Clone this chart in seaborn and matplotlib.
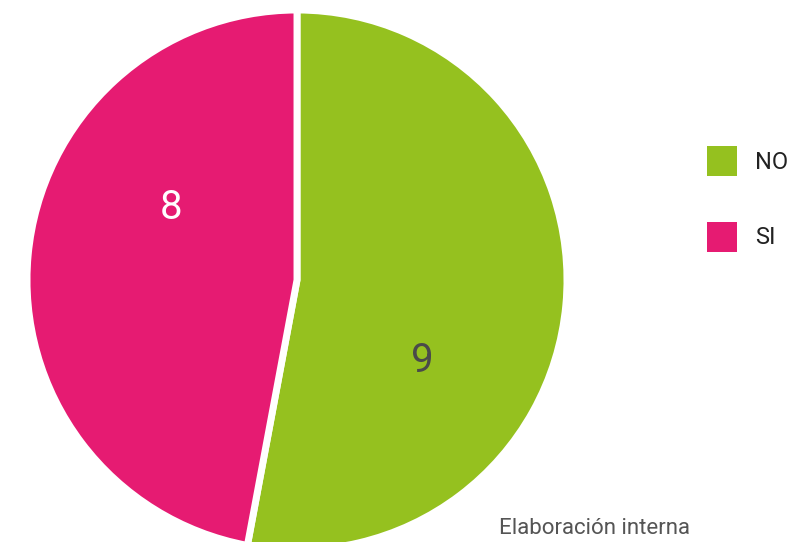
import numpy as np
import matplotlib
matplotlib.use("Agg")
import matplotlib.pyplot as plt
from matplotlib.patches import Patch
import seaborn as sns

# Datos
categorias = ["NO", "SI"]
valores = [9, 8]
colores = ["#95c11f", "#e61b72"]
color_texto = ["#4a4a4a", "#ffffff"]
nota = "Elaboración interna"

sns.set_theme(style="white")
plt.rcParams["font.family"] = ["Roboto", "DejaVu Sans"]

fig = plt.figure(figsize=(7.95, 5.42), dpi=100)
W, H = 795, 542

# pie: centro (297, 280) px desde arriba, radio ~270 px
R = 270
cx, cy = 297, 280
ax = fig.add_axes([(cx - R) / W, (H - cy - R) / H, 2 * R / W, 2 * R / H])

wedges, _ = ax.pie(
    valores,
    colors=colores,
    startangle=90,
    counterclock=False,
    radius=1,
    wedgeprops=dict(edgecolor="white", linewidth=5),
)
ax.set_xlim(-1, 1)
ax.set_ylim(-1, 1)
ax.set_aspect("equal")
ax.axis("off")

# Etiquetas de valor
for w, v, c in zip(wedges, valores, color_texto):
    medio = np.deg2rad((w.theta1 + w.theta2) / 2 - 26)
    ax.text(0.545 * np.cos(medio), 0.545 * np.sin(medio), str(v),
            ha="center", va="center_baseline", fontsize=29, color=c)

# Leyenda
handles = [Patch(facecolor=c, edgecolor="none") for c in colores]
fs = 17
fig.legend(
    handles, categorias,
    loc="upper left",
    bbox_to_anchor=(705 / W, 1 - 144 / H),
    frameon=False,
    fontsize=fs,
    handlelength=21.6 / fs,
    handleheight=(21.6 / fs - 0.245) / 0.65,
    handletextpad=0.75,
    labelspacing=1.92,
    labelcolor="#222222",
    borderaxespad=0,
    borderpad=0.1,
)

fig.text(690 / W, 1 - 528 / H, nota, ha="right", va="center",
         fontsize=16, color="#555555")

fig.savefig("out.png", dpi=100)
